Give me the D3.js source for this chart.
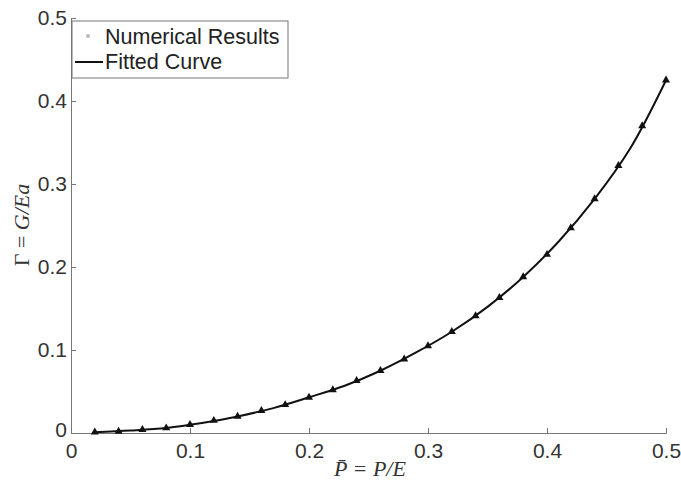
<!DOCTYPE html>
<html>
<head>
<meta charset="utf-8">
<script src="https://cdn.jsdelivr.net/npm/d3@7"></script>
<style>
  body { margin: 0; background: #fff; }
  svg { display: block; }
</style>
</head>
<body>
<div id="chart"></div>
<script>
// numerical results (P/E vs G/Ea)
const pValues = [0.02, 0.04, 0.06, 0.08, 0.10, 0.12, 0.14, 0.16, 0.18, 0.20, 0.22, 0.24, 0.26,
  0.28, 0.30, 0.32, 0.34, 0.36, 0.38, 0.40, 0.42, 0.44, 0.46, 0.48, 0.50]
const gammaValues = [0.001, 0.002, 0.004, 0.006, 0.010, 0.015, 0.020, 0.027, 0.034, 0.043, 0.052, 0.063, 0.075,
  0.089, 0.105, 0.122, 0.141, 0.163, 0.188, 0.215, 0.247, 0.282, 0.322, 0.370, 0.425]
// fitted curve samples
const fitP = [0.02, 0.05, 0.08, 0.11, 0.14, 0.17, 0.20, 0.23, 0.26, 0.29, 0.32, 0.35, 0.38, 0.41, 0.44, 0.47, 0.50]
const fitGamma = [0.001, 0.003, 0.006, 0.012, 0.020, 0.030, 0.043, 0.057, 0.075, 0.097, 0.122, 0.152, 0.188, 0.231, 0.282, 0.343, 0.425]
const xTicks = [0, 0.1, 0.2, 0.3, 0.4, 0.5]
const yTicks = [0, 0.1, 0.2, 0.3, 0.4, 0.5]

const W = 681, H = 480
const margin = { top: 18, left: 71, right: 15, bottom: 47 }

const svg = d3.select('#chart').append('svg')
  .attr('width', W).attr('height', H)

const x = d3.scaleLinear().domain([0, 0.5]).range([margin.left, W - margin.right])
const y = d3.scaleLinear().domain([0, 0.5]).range([H - margin.bottom, margin.top])

const axisColor = '#777'
const font = '"Liberation Sans", Arial, sans-serif'
const serif = '"Liberation Serif", "DejaVu Serif", serif'

// x axis, ticks pointing in
const xAxis = svg.append('g')
  .attr('transform', 'translate(0,' + y(0) + ')')
  .call(d3.axisBottom(x).tickValues(xTicks).tickSize(-5).tickPadding(8).tickFormat(d3.format('~g')))
xAxis.select('.domain').attr('stroke', axisColor)
xAxis.selectAll('.tick line').attr('stroke', axisColor)
xAxis.selectAll('.tick text').attr('font-family', font).attr('font-size', 21).attr('fill', '#333')
  .attr('dy', '0.8em')

// y axis
const yAxis = svg.append('g')
  .attr('transform', 'translate(' + x(0) + ',0)')
  .call(d3.axisLeft(y).tickValues(yTicks).tickSize(-5).tickPadding(4).tickFormat(d3.format('~g')))
yAxis.select('.domain').attr('stroke', axisColor)
yAxis.selectAll('.tick line').attr('stroke', axisColor)
yAxis.selectAll('.tick text').attr('font-family', font).attr('font-size', 21).attr('fill', '#333')
yAxis.selectAll('.tick text').filter(d => d === 0).attr('dy', '0.15em')

// fitted curve
const line = d3.line()
  .x((d, i) => x(fitP[i]))
  .y(d => y(d))
  .curve(d3.curveCatmullRom)
svg.append('path')
  .datum(fitGamma)
  .attr('d', line)
  .attr('fill', 'none')
  .attr('stroke', '#111')
  .attr('stroke-width', 2)

// numerical markers
const tri = d3.symbol().type(d3.symbolTriangle).size(28)
svg.append('g').selectAll('path')
  .data(gammaValues)
  .join('path')
  .attr('d', tri)
  .attr('transform', (d, i) => 'translate(' + x(pValues[i]) + ',' + y(d) + ')')
  .attr('fill', '#111')

// axis labels
svg.append('text')
  .attr('x', 370).attr('y', 476)
  .attr('text-anchor', 'middle')
  .attr('font-family', serif)
  .attr('font-style', 'italic')
  .attr('font-size', 22)
  .attr('fill', '#333')
  .text('P\u0304 = P/E')

const yLabel = svg.append('text')
  .attr('transform', 'translate(29,' + 225 + ') rotate(-90)')
  .attr('text-anchor', 'middle')
  .attr('font-family', serif)
  .attr('font-size', 22)
  .attr('fill', '#333')
yLabel.append('tspan').text('\u0393 = ')
yLabel.append('tspan').attr('font-style', 'italic').text('G/Ea')

// legend
const legend = svg.append('g').attr('transform', 'translate(72,21)')
legend.append('rect')
  .attr('width', 216).attr('height', 57)
  .attr('fill', '#fff').attr('stroke', axisColor)
legend.append('circle')
  .attr('cx', 16).attr('cy', 15).attr('r', 2)
  .attr('fill', '#bbb')
legend.append('line')
  .attr('x1', 3).attr('x2', 31).attr('y1', 41).attr('y2', 41)
  .attr('stroke', '#111').attr('stroke-width', 2)
legend.append('text')
  .attr('x', 33).attr('y', 23)
  .attr('font-family', font).attr('font-size', 21.5).attr('fill', '#222')
  .text('Numerical Results')
legend.append('text')
  .attr('x', 33).attr('y', 48)
  .attr('font-family', font).attr('font-size', 21.5).attr('fill', '#222')
  .text('Fitted Curve')
</script>
</body>
</html>
